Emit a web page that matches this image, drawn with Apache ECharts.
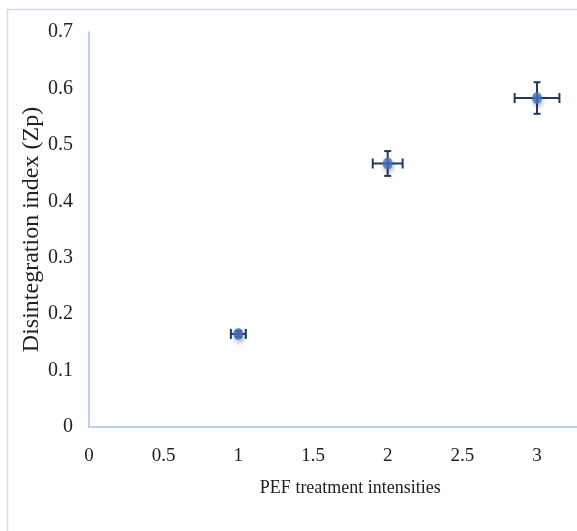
<!DOCTYPE html>
<html>
<head>
<meta charset="utf-8">
<script src="https://cdn.jsdelivr.net/npm/echarts@6/dist/echarts.min.js"></script>
<style>
  html, body { margin: 0; padding: 0; background: #fff; }
  #chart { width: 577px; height: 531px; }
</style>
</head>
<body>
<div id="chart"></div>
<script>
// PEF treatment intensity vs. disintegration index, with error bars on both axes
const intensities = [1, 2, 3];
const zpValues = [0.165, 0.467, 0.583];
const intensityErr = [0.05, 0.1, 0.15];
const zpErr = [0.005, 0.022, 0.028];

const serif = '"Liberation Serif", "Times New Roman", serif';
const axisBlue = '#A7C3EA';
const barColor = '#1F3864';

const errData = intensities.map((x, i) => [x, zpValues[i], intensityErr[i], zpErr[i]]);
const pointData = intensities.map((x, i) => [x, zpValues[i]]);

const chart = echarts.init(document.getElementById('chart'));
chart.setOption({
  backgroundColor: '#fff',
  animation: false,
  graphic: [{
    type: 'rect',
    left: 5, top: 7,
    shape: { width: 620, height: 600 },
    style: { fill: 'none', stroke: '#CFDDF1', lineWidth: 1.5 },
    z: -1
  }],
  grid: {
    left: 89, top: 32, width: 522.7, height: 395,
    containLabel: false,
    outerBoundsMode: 'none'
  },
  xAxis: {
    type: 'value',
    min: 0, max: 3.5, interval: 0.5,
    name: 'PEF treatment intensities',
    nameLocation: 'middle',
    nameGap: 52,
    nameMoveOverlap: false,
    nameTextStyle: { fontFamily: serif, fontSize: 18, color: '#222' },
    axisLine: { show: true, lineStyle: { color: axisBlue, width: 1.5 } },
    axisTick: { show: false },
    splitLine: { show: false },
    axisLabel: { fontFamily: serif, fontSize: 19, color: '#222', margin: 20 }
  },
  yAxis: {
    type: 'value',
    min: 0, max: 0.7, interval: 0.1,
    name: 'Disintegration index (Zp)',
    nameLocation: 'middle',
    nameGap: 45,
    nameMoveOverlap: false,
    nameRotate: 90,
    nameTextStyle: { fontFamily: serif, fontSize: 24, color: '#222' },
    axisLine: { show: true, lineStyle: { color: axisBlue, width: 1.5 } },
    axisTick: { show: false },
    splitLine: { show: false },
    axisLabel: { fontFamily: serif, fontSize: 20, color: '#222', margin: 16 }
  },
  series: [
    {
      type: 'custom',
      data: errData,
      z: 2,
      renderItem: function (params, api) {
        const x = api.value(0), y = api.value(1);
        const ex = api.value(2), ey = api.value(3);
        const l = api.coord([x - ex, y]);
        const r = api.coord([x + ex, y]);
        const t = api.coord([x, y + ey]);
        const b = api.coord([x, y - ey]);
        const capV = 5, capH = 3.5;
        const st = { stroke: barColor, lineWidth: 2 };
        return {
          type: 'group',
          children: [
            { type: 'line', shape: { x1: l[0], y1: l[1], x2: r[0], y2: r[1] }, style: st },
            { type: 'line', shape: { x1: l[0], y1: l[1] - capV, x2: l[0], y2: l[1] + capV }, style: st },
            { type: 'line', shape: { x1: r[0], y1: r[1] - capV, x2: r[0], y2: r[1] + capV }, style: st },
            { type: 'line', shape: { x1: t[0], y1: t[1], x2: b[0], y2: b[1] }, style: st },
            { type: 'line', shape: { x1: t[0] - capH, y1: t[1], x2: t[0] + capH, y2: t[1] }, style: st },
            { type: 'line', shape: { x1: b[0] - capH, y1: b[1], x2: b[0] + capH, y2: b[1] }, style: st }
          ]
        };
      }
    },
    {
      type: 'scatter',
      data: pointData,
      z: 3,
      symbol: 'circle',
      symbolSize: [10, 12],
      itemStyle: {
        color: '#4472C4',
        shadowBlur: 4,
        shadowColor: 'rgba(0,0,0,0.35)',
        shadowOffsetX: 1,
        shadowOffsetY: 3
      }
    }
  ]
});
</script>
</body>
</html>
